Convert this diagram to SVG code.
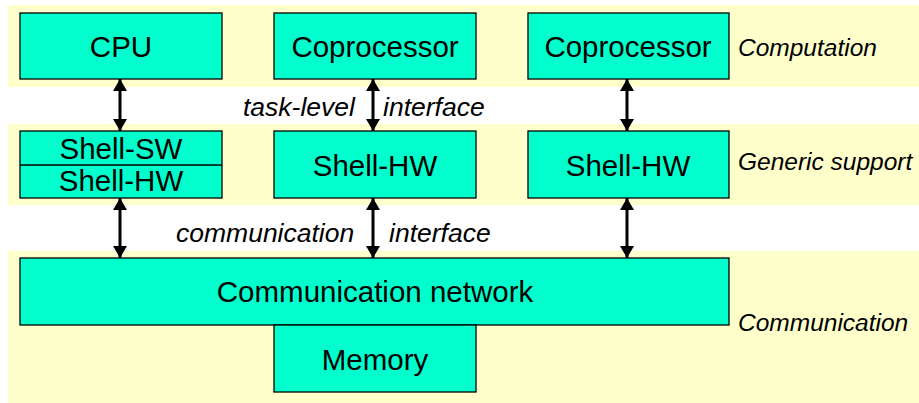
<svg xmlns="http://www.w3.org/2000/svg" width="919" height="403" viewBox="0 0 919 403">
<defs>
<style>
.band{fill:#FFFFCC;}
.box{fill:#00FFCC;stroke:#000;stroke-width:1.3;}
.t{font-family:"Liberation Sans",Arial,sans-serif;font-size:29.5px;fill:#000;text-anchor:middle;}
.i{font-family:"Liberation Sans",Arial,sans-serif;font-size:24.5px;font-style:italic;fill:#000;}
.m{font-size:26.5px;}
.conn{stroke:#000;stroke-width:3;fill:none;marker-start:url(#ah);marker-end:url(#ah);}
</style>
<marker id="ah" markerUnits="userSpaceOnUse" viewBox="0 0 12 14" refX="12" refY="7" markerWidth="12" markerHeight="14" orient="auto-start-reverse">
<path d="M0,0 L12,7 L0,14 Z" fill="#000"/>
</marker>
</defs>
<rect width="919" height="403" fill="#fff"/>
<rect class="band" x="8" y="5" width="911" height="82"/>
<rect class="band" x="8" y="124" width="911" height="81"/>
<rect class="band" x="8" y="251" width="911" height="152"/>
<g id="cpu"><rect class="box" x="20" y="13" width="202" height="66"/><text class="t" x="121" y="57">CPU</text></g>
<g id="coproc1"><rect class="box" x="274" y="13" width="202" height="66"/><text class="t" x="375" y="57">Coprocessor</text></g>
<g id="coproc2"><rect class="box" x="528" y="13" width="201" height="66"/><text class="t" x="628" y="57">Coprocessor</text></g>
<g id="shell-sw-hw"><rect class="box" x="20" y="131" width="202" height="67"/><line x1="20" y1="165" x2="222" y2="165" stroke="#000" stroke-width="1.3"/><text class="t" x="121" y="159">Shell-SW</text><text class="t" x="121" y="191">Shell-HW</text></g>
<g id="shell-hw1"><rect class="box" x="274" y="131" width="202" height="67"/><text class="t" x="375" y="176">Shell-HW</text></g>
<g id="shell-hw2"><rect class="box" x="528" y="131" width="201" height="67"/><text class="t" x="628" y="176">Shell-HW</text></g>
<g id="network"><rect class="box" x="20" y="258" width="709" height="67"/><text class="t" x="375" y="302">Communication network</text></g>
<g id="memory"><rect class="box" x="274" y="325" width="202" height="67"/><text class="t" x="375" y="370">Memory</text></g>
<g id="labels">
<text class="i" x="738" y="56">Computation</text>
<text class="i" x="738" y="170">Generic support</text>
<text class="i" x="738" y="331">Communication</text>
<text class="i m" x="243" y="116">task-level</text>
<text class="i m" x="383" y="116">interface</text>
<text class="i m" x="176" y="242">communication</text>
<text class="i m" x="389" y="242">interface</text>
</g>
<g id="connectors">
<line class="conn" x1="120" y1="79" x2="120" y2="131"/>
<line class="conn" x1="373" y1="79" x2="373" y2="131"/>
<line class="conn" x1="627" y1="79" x2="627" y2="131"/>
<line class="conn" x1="120" y1="198" x2="120" y2="258"/>
<line class="conn" x1="373" y1="198" x2="373" y2="258"/>
<line class="conn" x1="627" y1="198" x2="627" y2="258"/>
</g>
</svg>
